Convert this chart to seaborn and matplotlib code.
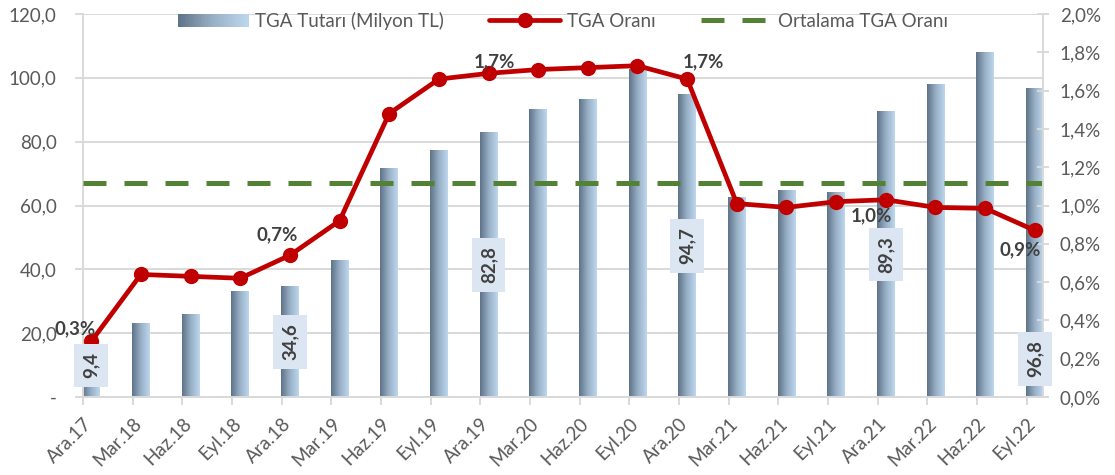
import numpy as np
import pandas as pd
import matplotlib
matplotlib.use('Agg')
import matplotlib.pyplot as plt
import seaborn as sns
from matplotlib.colors import LinearSegmentedColormap
from matplotlib.legend_handler import HandlerBase
from matplotlib.patches import Rectangle, Patch
from matplotlib.lines import Line2D

# ==========================================
# DATA
# ==========================================

PERIODS = ['Ara.17', 'Mar.18', 'Haz.18', 'Eyl.18', 'Ara.18', 'Mar.19', 'Haz.19',
           'Eyl.19', 'Ara.19', 'Mar.20', 'Haz.20', 'Eyl.20', 'Ara.20', 'Mar.21',
           'Haz.21', 'Eyl.21', 'Ara.21', 'Mar.22', 'Haz.22', 'Eyl.22']

# TGA Tutarı (Milyon TL) - left axis
TGA_AMOUNT = [9.4, 22.9, 26.0, 32.9, 34.6, 42.9, 71.5, 77.1, 82.8, 90.0,
              93.1, 102.5, 94.7, 62.5, 64.6, 64.2, 89.3, 97.8, 107.8, 96.8]

# TGA Oranı (%) - right axis
TGA_RATIO = [0.29, 0.64, 0.63, 0.62, 0.74, 0.92, 1.48, 1.66, 1.69, 1.71,
             1.72, 1.73, 1.66, 1.01, 0.99, 1.02, 1.03, 0.99, 0.985, 0.87]

AVG_RATIO = 1.12

# which points get a data label
BAR_LABEL_IDX = [0, 4, 8, 12, 16, 19]
RATIO_LABEL_IDX = [0, 4, 8, 12, 16, 19]

# ==========================================
# STYLE
# ==========================================

sns.set_theme(style="white")
plt.rcParams['font.family'] = ['Lato', 'DejaVu Sans']

GRAY_TXT = '#595959'
DARK_TXT = '#404040'
AXIS_COL = '#d9d9d9'
RED = '#c00000'
GREEN = '#548235'
FS = 13.5

bar_cmap = LinearSegmentedColormap.from_list('tga', ['#5f7388', '#98b0c6', '#bdd7ee'])


class GradientHandler(HandlerBase):
    # legend box drawn as a horizontal gradient like the bars
    def create_artists(self, legend, orig_handle, xdescent, ydescent,
                       width, height, fontsize, trans):
        n = 40
        arts = []
        for k in range(n):
            r = Rectangle((-xdescent + width * k / n, -ydescent), width / n * 1.05, height,
                          facecolor=bar_cmap(k / (n - 1)), edgecolor='none', transform=trans)
            arts.append(r)
        return arts


def comma(v, fmt='{:.1f}'):
    return fmt.format(v).replace('.', ',')


df = pd.DataFrame({'period': PERIODS, 'amount': TGA_AMOUNT,
                   'ratio': TGA_RATIO, 'pos': np.arange(len(PERIODS))})
n = len(PERIODS)

fig, ax = plt.subplots(figsize=(11.15, 4.75), dpi=100)
fig.subplots_adjust(left=83 / 1115, right=1043 / 1115, top=1 - 14 / 475, bottom=1 - 397 / 475)

# bars
sns.barplot(data=df, x='period', y='amount', order=PERIODS, ax=ax,
            width=0.35, color='#9fb6cc', zorder=2)

grad = np.linspace(0, 1, 64).reshape(1, -1)
for p in list(ax.patches):
    x0, w, h = p.get_x(), p.get_width(), p.get_height()
    ax.imshow(grad, extent=[x0, x0 + w, 0, h], aspect='auto', cmap=bar_cmap,
              zorder=2, interpolation='bilinear')
    p.set_visible(False)

ax.set_ylim(0, 120)
ax.yaxis.grid(True, color=AXIS_COL, lw=1.4)
ax.set_axisbelow(True)

# ratio line on secondary axis
ax2 = ax.twinx()
sns.lineplot(data=df, x='pos', y='ratio', ax=ax2, color=RED, lw=3.4,
             marker='o', markersize=11, markeredgewidth=0, zorder=3)
ax2.axhline(AVG_RATIO, color=GREEN, lw=3.6, ls=(0, (4.6, 3.6)), zorder=2.5)
ax2.set_ylim(0, 2.0)

# axes limits / ticks
ax.set_xlim(-0.165, n - 1 + 0.165)
ax.set_xticks(np.arange(n) - 0.165)
ax.set_xticklabels(PERIODS)
for lab in ax.get_xticklabels():
    lab.set_rotation(45)
    lab.set_ha('right')
    lab.set_va('top')
    lab.set_rotation_mode('anchor')

yt = np.arange(0, 121, 20)
ax.set_yticks(yt)
ax.set_yticklabels(['-' if v == 0 else comma(v) for v in yt])
rt = np.arange(0, 2.01, 0.2)
ax2.set_yticks(rt)
ax2.set_yticklabels([comma(v) + '%' for v in rt])

ax.set_xlabel('')
ax.set_ylabel('')
ax2.set_xlabel('')
ax2.set_ylabel('')

for s in ['top', 'right']:
    ax.spines[s].set_visible(False)
for s in ['top', 'left', 'bottom']:
    ax2.spines[s].set_visible(False)
for s in ['left', 'bottom']:
    ax.spines[s].set_color(AXIS_COL)
    ax.spines[s].set_linewidth(1.4)
ax2.spines['right'].set_color(AXIS_COL)
ax2.spines['right'].set_linewidth(1.4)

ax.tick_params(axis='y', left=True, length=6, width=1.4, color=AXIS_COL,
               labelsize=FS, labelcolor=GRAY_TXT, pad=13)
ax.tick_params(axis='x', bottom=True, length=6, width=1.4, color=AXIS_COL,
               labelsize=FS, labelcolor=GRAY_TXT, pad=7)
ax2.tick_params(axis='y', right=True, direction='inout', length=8, width=1.4,
                color=AXIS_COL, labelsize=FS, labelcolor=GRAY_TXT, pad=8)

# bar value labels (boxed, vertical)
label_y = {0: 10.0, 19: 11.9}
for i in BAR_LABEL_IDX:
    v = TGA_AMOUNT[i]
    y = label_y.get(i, v / 2)
    ax2.text(i, y, comma(v), transform=ax.transData, rotation=90,
             ha='center', va='center', fontsize=FS, fontweight='bold', color=DARK_TXT,
             bbox=dict(boxstyle='square,pad=0.45', fc='#dce6f2', ec='none'), zorder=6)

# ratio labels
ratio_offsets = {0: (-16, 13), 4: (-13, 21), 8: (6, 12), 12: (16, 17), 16: (-14, -16), 19: (-15, -19)}
for i in RATIO_LABEL_IDX:
    dx, dy = ratio_offsets[i]
    ax2.annotate(comma(TGA_RATIO[i]) + '%', (i, TGA_RATIO[i]),
                 xytext=(dx * 0.72, dy * 0.72), textcoords='offset points',
                 ha='center', va='center', fontsize=FS, fontweight='bold',
                 color=DARK_TXT, zorder=6)

# legend
bar_handle = Patch(facecolor='#9fb6cc')
handles = [bar_handle,
           Line2D([], [], color=RED, lw=3.4, marker='o', markersize=11, markeredgewidth=0),
           Line2D([], [], color=GREEN, lw=3.6, ls=(0, (4.6, 3.6)))]
labels = ['TGA Tutarı (Milyon TL)', 'TGA Oranı', 'Ortalama TGA Oranı']
leg = ax2.legend(handles, labels, handler_map={bar_handle: GradientHandler()},
                 loc='center', bbox_to_anchor=(0.5, 1 - 7 / 383), ncol=3, frameon=False,
                 fontsize=FS, handlelength=3.8, handletextpad=0.35, columnspacing=2.4,
                 labelcolor=GRAY_TXT, borderpad=0)

plt.savefig('out.png', dpi=100)
plt.close()
